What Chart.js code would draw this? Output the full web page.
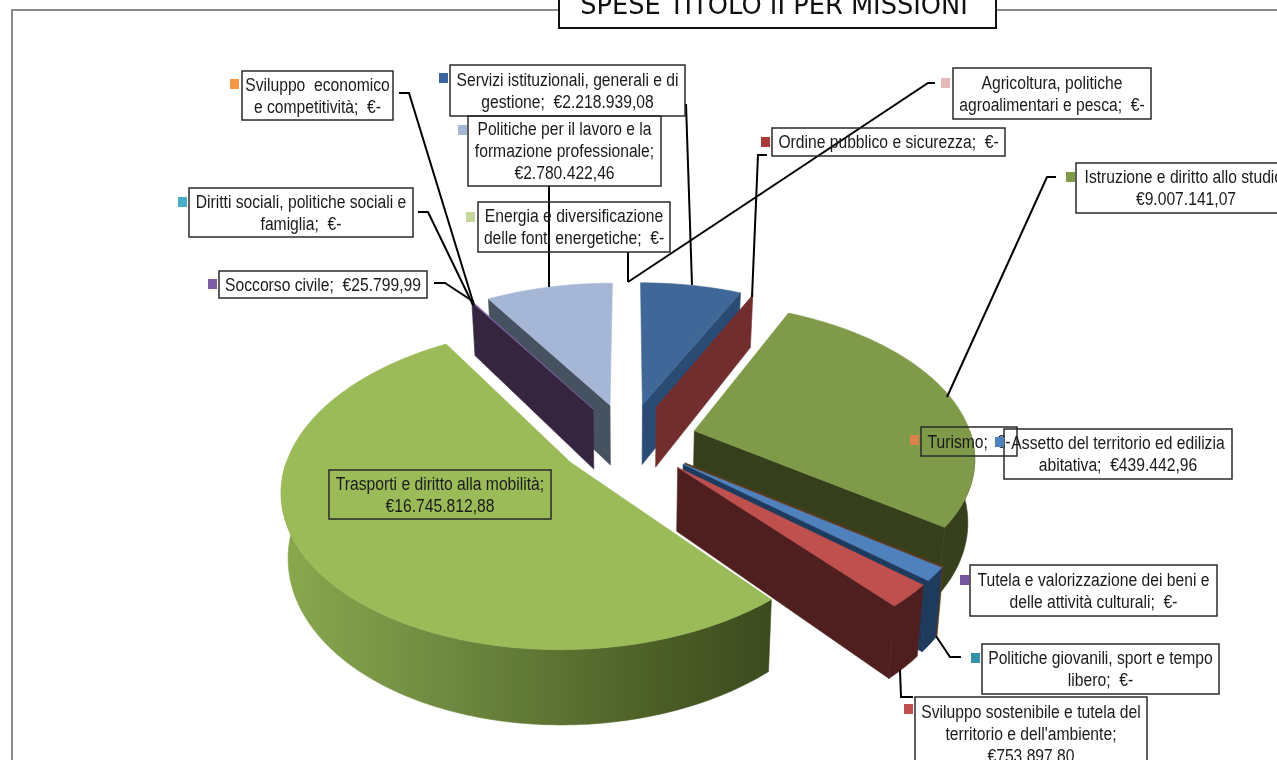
<!DOCTYPE html>
<html>
<head>
<meta charset="utf-8">
<title>Spese titolo II per missioni</title>
<script src="https://cdn.jsdelivr.net/npm/chart.js@4"></script>
<style>
  html, body { margin: 0; padding: 0; background: #fff; overflow: hidden; }
  canvas { display: block; }
</style>
</head>
<body>
<canvas id="spesePie" width="1277" height="760"></canvas>
<script>
// Data, clockwise from 12 o'clock
const categories = [
  'Servizi istituzionali, generali e di gestione',
  'Ordine pubblico e sicurezza',
  'Istruzione e diritto allo studio',
  'Turismo',
  'Assetto del territorio ed edilizia abitativa',
  'Tutela e valorizzazione dei beni e delle attività culturali',
  'Politiche giovanili, sport e tempo libero',
  'Sviluppo sostenibile e tutela del territorio e dell\'ambiente',
  'Trasporti e diritto alla mobilità',
  'Soccorso civile',
  'Diritti sociali, politiche sociali e famiglia',
  'Sviluppo economico e competitività',
  'Politiche per il lavoro e la formazione professionale',
  'Energia e diversificazione delle fonti energetiche',
  'Agricoltura, politiche agroalimentari e pesca'
];
const values = [
  2218939.08, 0, 9007141.07, 0, 439442.96, 0, 0, 753897.80,
  16745812.88, 25799.99, 0, 0, 2780422.46, 0, 0
];
const titleText = 'SPESE TITOLO II PER MISSIONI';

// Colours
const topColors = [
  '#3f6797', '#953735', '#7f9a48', '#e46c0a', '#4f81bd', '#60497a', '#31859c', '#c0504d',
  '#9bbb59', '#8064a2', '#4bacc6', '#f79646', '#a6b6d7', '#c3d69b', '#e6b9b8'
];
const wallColors = [
  '#2a4b74', '#722d2e', '#363f1c', '#5a3a1c', '#1e3a5c', '#35253f', '#1d5060', '#4f1f1f',
  '#3c4a1e', '#35253f', '#2a6070', '#8a5020', '#475260', '#5e6a45', '#7a5c5c'
];
const legendColors = [
  '#3b64a0', '#a83a38', '#7f9a48', '#d9824a', '#4f81bd', '#7554a0', '#3391a8', '#c0504d',
  '#9bbb59', '#7d5fa5', '#4bacc6', '#f79646', '#a6b6d7', '#c3d69b', '#e6b9b8'
];

// Back to front
const drawOrder = [12, 9, 0, 1, 2, 3, 4, 7, 8];
// zero slices that still show a wall in the picture
const zeroWalls = [1, 3];

// Perspective of the pie plane, fitted by eye
const view = { cx: 628, cy: 440, sx: 278, sy: 150.7, g: 0.154, depth: 62, shrink: 0.98 };

function project(u, v) {
  const w = 1 - view.g * v;
  return { x: view.cx + view.sx * u / w, y: view.cy + view.sy * v / w, w: w };
}

function lower(p) {
  return { x: view.cx + (p.x - view.cx) * view.shrink, y: p.y + view.depth / p.w };
}

function fillPath(ctx, pts, fill) {
  ctx.beginPath();
  pts.forEach((p, i) => i ? ctx.lineTo(p.x, p.y) : ctx.moveTo(p.x, p.y));
  ctx.closePath();
  ctx.fillStyle = fill;
  ctx.strokeStyle = fill;
  ctx.lineWidth = 0.6;
  ctx.fill();
  ctx.stroke();
}

function drawSlice(ctx, el, i) {
  const a0 = el.startAngle + Math.PI / 2;
  const a1 = el.endAngle + Math.PI / 2;
  const mid = (a0 + a1) / 2;
  const e = el.options.offset / el.outerRadius;
  const u0 = e * Math.sin(mid);
  const v0 = -e * Math.cos(mid);
  const at = t => project(u0 + Math.sin(t), v0 - Math.cos(t));
  const apex = project(u0, v0);
  const wall = wallColors[i];

  // radial faces, only the ones turned to the viewer (zero slices show as a bare wall)
  const isZero = a1 - a0 < 1e-6;
  if (isZero || -Math.sin(a0) > 0) {
    const p = at(a0);
    fillPath(ctx, [apex, p, lower(p), lower(apex)], wall);
  }

  // outer rim, front half only
  const from = Math.max(a0, Math.PI / 2);
  const to = Math.min(a1, Math.PI * 1.5);
  if (to > from) {
    const upper = [];
    for (let t = from; t < to; t += 0.01) upper.push(at(t));
    upper.push(at(to));
    const xs = upper.map(p => p.x);
    const grad = ctx.createLinearGradient(Math.min(...xs), 0, Math.max(...xs), 0);
    if (i === 8) {
      grad.addColorStop(0, '#8aa94e');
      grad.addColorStop(0.35, '#6d8840');
      grad.addColorStop(0.75, '#4d6027');
      grad.addColorStop(1, wall);
    } else {
      grad.addColorStop(0, wall);
      grad.addColorStop(1, wall);
    }
    fillPath(ctx, upper.concat(upper.map(lower).reverse()), grad);
  }

  if (!isZero && Math.sin(a1) > 0) {
    const p = at(a1);
    fillPath(ctx, [apex, p, lower(p), lower(apex)], wall);
  }

  // top face
  if (!isZero) {
    const top = [apex];
    for (let t = a0; t < a1; t += 0.01) top.push(at(t));
    top.push(at(a1));
    fillPath(ctx, top, el.options.backgroundColor);
  }
}

const pie3d = {
  id: 'pie3d',
  beforeDatasetDraw(chart, args) {
    const ctx = chart.ctx;
    const arcs = chart.getDatasetMeta(args.index).data;
    ctx.save();
    drawOrder.forEach(i => {
      if (values[i] > 0 || zeroWalls.includes(i)) drawSlice(ctx, arcs[i], i);
    });
    ctx.restore();
    return false;
  }
};

// Labels: text lines ({v} is the value), box, marker and leader
const labelBoxes = [
  { i: 0, box: [450, 65, 235, 51], lines: ['Servizi istituzionali, generali e di', 'gestione;  {v}'], mark: [439, 73], leader: [[686, 104], [692, 285]] },
  { i: 1, box: [772, 128, 233, 28], lines: ['Ordine pubblico e sicurezza;  {v}'], mark: [761, 137], leader: [[767, 155], [758, 155], [752, 297]] },
  { i: 2, box: [1076, 163, 220, 50], lines: ['Istruzione e diritto allo studio;', '{v}'], mark: [1066, 172], leader: [[1056, 177], [1047, 177], [947, 397]] },
  { i: 3, box: [921, 427, 96, 29], lines: ['Turismo;  {v}'], mark: [910, 435] },
  { i: 4, box: [1004, 429, 228, 50], lines: ['Assetto del territorio ed edilizia', 'abitativa;  {v}'], mark: [995, 437] },
  { i: 5, box: [970, 565, 247, 51], lines: ['Tutela e valorizzazione dei beni e', 'delle attività culturali;  {v}'], mark: [960, 575] },
  { i: 6, box: [982, 644, 237, 50], lines: ['Politiche giovanili, sport e tempo', 'libero;  {v}'], mark: [971, 653], leader: [[961, 657], [950, 657], [936, 636]] },
  { i: 7, box: [915, 697, 232, 73], lines: ['Sviluppo sostenibile e tutela del', 'territorio e dell\'ambiente;', '{v}'], mark: [904, 704], leader: [[913, 697], [901, 697], [900, 670]] },
  { i: 8, box: [329, 470, 222, 49], lines: ['Trasporti e diritto alla mobilità;', '{v}'] },
  { i: 9, box: [219, 271, 208, 27], lines: ['Soccorso civile;  {v}'], mark: [208, 279], leader: [[434, 283], [445, 283], [474, 302]] },
  { i: 10, box: [189, 188, 224, 49], lines: ['Diritti sociali, politiche sociali e', 'famiglia;  {v}'], mark: [178, 197], leader: [[418, 212], [428, 212], [473, 305]] },
  { i: 11, box: [242, 71, 151, 49], lines: ['Sviluppo  economico', 'e competitività;  {v}'], mark: [230, 79], leader: [[399, 93], [409, 93], [474, 305]] },
  { i: 12, box: [468, 116, 193, 70], lines: ['Politiche per il lavoro e la', 'formazione professionale;', '{v}'], mark: [458, 125], leader: [[549, 186], [549, 287]] },
  { i: 13, box: [478, 202, 192, 50], lines: ['Energia e diversificazione', 'delle fonti energetiche;  {v}'], mark: [466, 212], leader: [[628, 252], [628, 282]] },
  { i: 14, box: [953, 68, 198, 51], lines: ['Agricoltura, politiche', 'agroalimentari e pesca;  {v}'], mark: [941, 78], leader: [[935, 83], [928, 83], [628, 282]] }
];

function money(v) {
  if (!v) return '€-';
  const parts = v.toFixed(2).split('.');
  return '€' + parts[0].replace(/\B(?=(\d{3})+$)/g, '.') + ',' + parts[1];
}

const annotations = {
  id: 'annotations',
  afterDraw(chart) {
    const ctx = chart.ctx;
    ctx.save();

    // frame with the title box sitting on it
    ctx.strokeStyle = '#8c8c8c';
    ctx.lineWidth = 2;
    ctx.beginPath();
    ctx.moveTo(12, 760);
    ctx.lineTo(12, 10);
    ctx.lineTo(1277, 10);
    ctx.stroke();
    ctx.fillStyle = '#fff';
    ctx.fillRect(559, -4, 437, 32);
    ctx.strokeStyle = '#111';
    ctx.strokeRect(559, -4, 437, 32);
    ctx.fillStyle = '#111';
    ctx.font = '25.7px "DejaVu Sans"';
    ctx.textAlign = 'center';
    ctx.textBaseline = 'alphabetic';
    ctx.fillText(titleText, 774, 14);

    // leaders
    ctx.strokeStyle = '#000';
    ctx.lineWidth = 2;
    labelBoxes.forEach(l => {
      if (!l.leader) return;
      ctx.beginPath();
      l.leader.forEach((p, k) => k ? ctx.lineTo(p[0], p[1]) : ctx.moveTo(p[0], p[1]));
      ctx.stroke();
    });

    // boxes, markers, text
    labelBoxes.forEach(l => {
      const [x, y, w, h] = l.box;
      ctx.strokeStyle = '#2a2a2a';
      ctx.lineWidth = 1.5;
      ctx.strokeRect(x, y, w, h);
      if (l.mark) {
        ctx.fillStyle = legendColors[l.i];
        ctx.fillRect(l.mark[0], l.mark[1], 9, 10);
      }
      ctx.fillStyle = '#1a1a1a';
      ctx.font = '18px "Liberation Sans"';
      const cx = x + w / 2;
      const lead = 22;
      const first = y + h / 2 - (l.lines.length - 1) * lead / 2 + 6;
      l.lines.forEach((line, k) => {
        ctx.save();
        ctx.translate(cx, first + k * lead);
        ctx.scale(0.87, 1);
        ctx.fillText(line.replace('{v}', money(values[l.i])), 0, 0);
        ctx.restore();
      });
    });
    ctx.restore();
  }
};

new Chart(document.getElementById('spesePie').getContext('2d'), {
  type: 'pie',
  data: {
    labels: categories,
    datasets: [{
      data: values,
      backgroundColor: topColors,
      borderWidth: 0,
      offset: 84
    }]
  },
  options: {
    responsive: false,
    animation: false,
    events: [],
    plugins: {
      legend: { display: false },
      title: { display: false },
      tooltip: { enabled: false }
    }
  },
  plugins: [pie3d, annotations]
});
</script>
</body>
</html>
